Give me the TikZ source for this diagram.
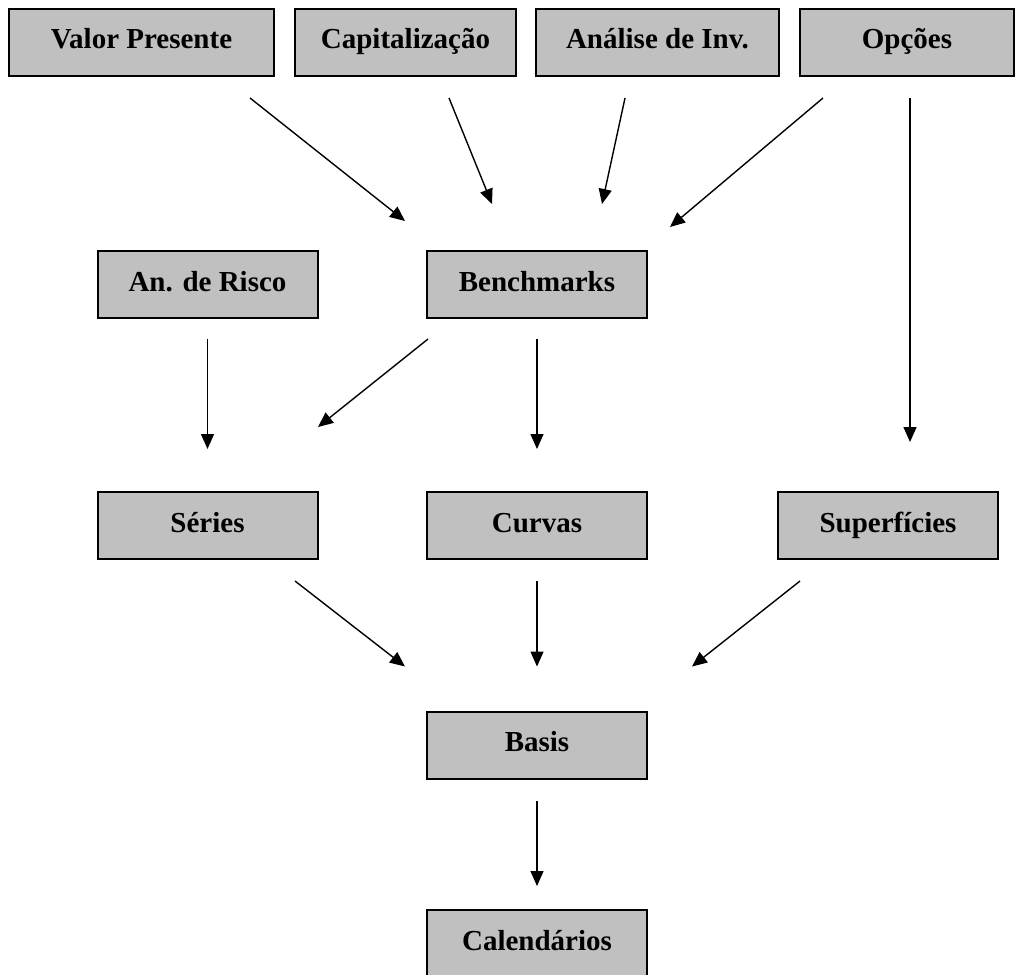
\documentclass[tikz,border=0pt]{standalone}
\usepackage{fontspec}
\setmainfont{Liberation Serif}
\usepackage{tikz}
\usetikzlibrary{calc,arrows.meta}
\definecolor{boxgray}{RGB}{192,192,192}

\begin{document}
\begin{tikzpicture}[x=0.5pt, y=-0.5pt,
    box/.style={rectangle, draw=black, line width=1pt, fill=boxgray, minimum height=33.5pt, minimum width=110pt, inner sep=0pt, font=\fontsize{14.5}{16}\selectfont\bfseries, text height=10pt, text depth=3.5pt},
    conn/.style={draw, line width=0.7pt, -{Triangle[length=7.5pt,width=6.5pt]}}]
    \path [use as bounding box, clip] (0,0) rectangle (1015,974);
    % Place nodes
    \node [box, minimum width=132.5pt] (VP) at (141.5,42.5) {Valor Presente};
    \node [box, minimum width=110.5pt] (CAP) at (405.5,42.5) {Capitalização};
    \node [box, minimum width=121.5pt] (AI) at (657.5,42.5) {Análise de Inv.};
    \node [box, minimum width=107pt] (OP) at (907,42.5) {Opções};
    \node [box] (AR) at (207.5,284.5) {An. de Risco};
    \node [box] (BM) at (537,284.5) {Benchmarks};
    \node [box] (SE) at (207.5,525.5) {Séries};
    \node [box] (CU) at (537,525.5) {Curvas};
    \node [box] (SU) at (888,525.5) {Superfícies};
    \node [box] (BA) at (537,745) {Basis};
    \node [box] (CA) at (537,943.5) {Calendários};
    % Draw arrows
    \path [conn] ($(VP.south)+(108.5,21)$) -- ($(BM.north)+(-132,-29)$);
    \path [conn] ($(CAP.south)+(43.5,21)$) -- ($(BM.north)+(-45,-46)$);
    \path [conn] ($(AI.south)+(-32.5,21)$) -- ($(BM.north)+(65,-46)$);
    \path [conn] ($(OP.south)+(-84,21)$) -- ($(BM.north)+(133,-23)$);
    \path [conn] ($(OP.south)+(3,21)$) -- ($(SU.north)+(22,-49)$);
    \path [conn] ($(AR.south)+(0,20)$) -- ($(SE.north)+(0,-42)$);
    \path [conn] ($(BM.south)+(-109,20)$) -- ($(SE.north)+(110.5,-64)$);
    \path [conn] ($(BM.south)+(0,20)$) -- ($(CU.north)+(0,-42)$);
    \path [conn] ($(SE.south)+(87.5,21)$) -- ($(BA.north)+(-132,-44)$);
    \path [conn] ($(CU.south)+(0,21)$) -- ($(BA.north)+(0,-44)$);
    \path [conn] ($(SU.south)+(-88,21)$) -- ($(BA.north)+(155,-44)$);
    \path [conn] ($(BA.south)+(0,21)$) -- ($(CA.north)+(0,-23)$);
\end{tikzpicture}
\end{document}
